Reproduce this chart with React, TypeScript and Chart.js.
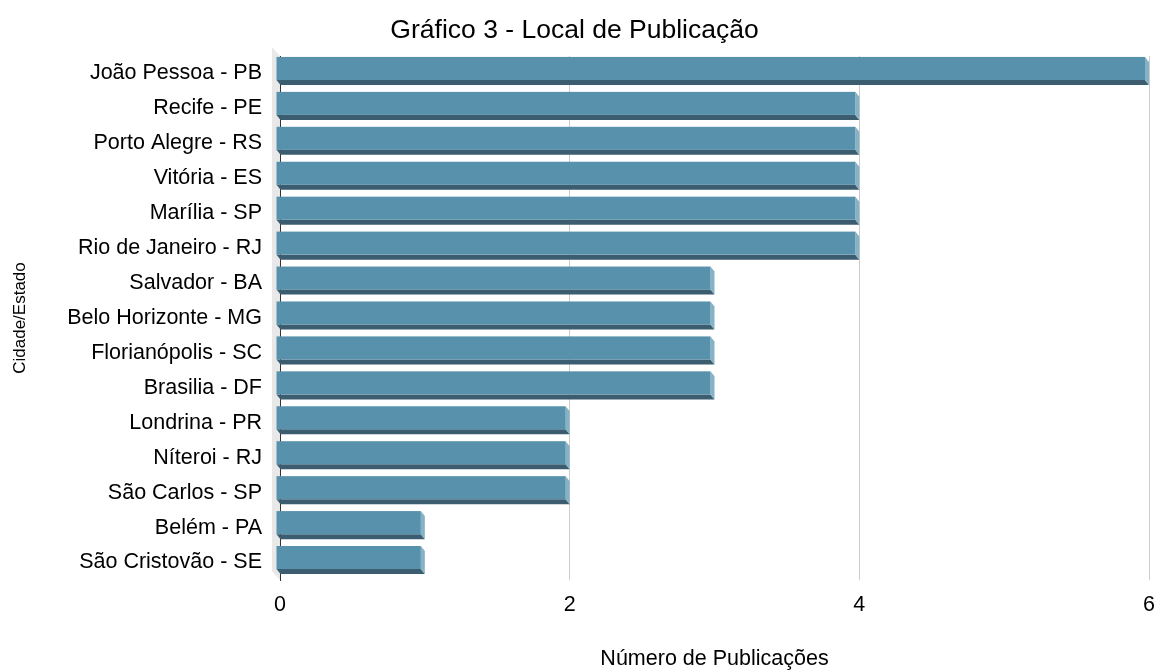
import React, { useEffect, useRef } from "react";
import { Chart, registerables } from "chart.js";

Chart.register(...registerables);

const categories: string[] = [
  "João Pessoa - PB",
  "Recife - PE",
  "Porto Alegre - RS",
  "Vitória - ES",
  "Marília - SP",
  "Rio de Janeiro - RJ",
  "Salvador - BA",
  "Belo Horizonte - MG",
  "Florianópolis - SC",
  "Brasilia - DF",
  "Londrina - PR",
  "Níteroi - RJ",
  "São Carlos - SP",
  "Belém - PA",
  "São Cristovão - SE",
];

const publicacoes: number[] = [6, 4, 4, 4, 4, 4, 3, 3, 3, 3, 2, 2, 2, 1, 1];

const xTicks: number[] = [0, 2, 4, 6];

const chartTitle = "Gráfico 3 - Local de Publicação";
const xTitle = "Número de Publicações";
const yTitle = "Cidade/Estado";

const FONT = "'Liberation Sans', Arial, sans-serif";
const DX = -4;
const DY = -5;

const wallPlugin = {
  id: "wall3d",
  beforeDraw(chart: any) {
    const { ctx, chartArea } = chart;
    const { left, top, bottom } = chartArea;
    ctx.save();
    ctx.fillStyle = "#e8e8e8";
    ctx.beginPath();
    ctx.moveTo(left + DX * 2, top + DY * 2 + 1);
    ctx.lineTo(left, top);
    ctx.lineTo(left, bottom);
    ctx.lineTo(left + DX * 2, bottom + DY * 2 + 1);
    ctx.closePath();
    ctx.fill();
    ctx.restore();
  },
};

const bar3dPlugin = {
  id: "bar3d",
  afterDatasetsDraw(chart: any) {
    const { ctx } = chart;
    const meta = chart.getDatasetMeta(0);
    ctx.save();
    meta.data.forEach((el: any) => {
      const p = el.getProps(["x", "y", "base", "height"], true);
      const x0 = p.base;
      const x1 = p.x;
      const y0 = p.y - p.height / 2;
      const y1 = p.y + p.height / 2;
      // bottom face
      ctx.fillStyle = "#3c5c70";
      ctx.beginPath();
      ctx.moveTo(x0 + DX, y1 + DY);
      ctx.lineTo(x1 + DX, y1 + DY);
      ctx.lineTo(x1, y1);
      ctx.lineTo(x0, y1);
      ctx.closePath();
      ctx.fill();
      // right face
      ctx.fillStyle = "#86b2c5";
      ctx.beginPath();
      ctx.moveTo(x1 + DX, y0 + DY);
      ctx.lineTo(x1, y0);
      ctx.lineTo(x1, y1);
      ctx.lineTo(x1 + DX, y1 + DY);
      ctx.closePath();
      ctx.fill();
      // front face
      ctx.fillStyle = "#5791ab";
      ctx.fillRect(x0 + DX, y0 + DY, x1 - x0, y1 - y0);
    });
    ctx.restore();
  },
};

export default function App() {
  const canvasRef = useRef<HTMLCanvasElement | null>(null);

  useEffect(() => {
    if (!canvasRef.current) return;
    const chart = new Chart(canvasRef.current, {
      type: "bar",
      data: {
        labels: categories,
        datasets: [
          {
            data: publicacoes,
            backgroundColor: "rgba(0,0,0,0)",
            borderWidth: 0,
            barPercentage: 0.66,
            categoryPercentage: 1,
          },
        ],
      },
      options: {
        indexAxis: "y",
        responsive: false,
        animation: false,
        devicePixelRatio: 1,
        layout: { padding: { left: 0, right: 7, top: 0, bottom: 0 } },
        plugins: {
          legend: { display: false },
          tooltip: { enabled: false },
          title: {
            display: true,
            text: chartTitle,
            color: "#000",
            font: { family: FONT, size: 26.5, weight: "normal" },
            padding: { top: 14.6, bottom: 9.6 },
          },
        },
        scales: {
          x: {
            min: 0,
            max: 6,
            afterBuildTicks(scale: any) {
              scale.ticks = xTicks.map((v) => ({ value: v }));
            },
            afterFit(scale: any) {
              scale.height = 90;
              scale.paddingLeft = 0;
              scale.paddingRight = 0;
            },
            ticks: {
              color: "#000",
              font: { family: FONT, size: 21.5 },
              padding: 12,
            },
            grid: {
              color: "#cccccc",
              drawTicks: false,
            },
            border: { display: false },
            title: {
              display: true,
              text: xTitle,
              color: "#000",
              font: { family: FONT, size: 21.5, lineHeight: 1.0 },
              padding: { top: 0, bottom: 0 },
            },
          },
          y: {
            afterFit(scale: any) {
              scale.width = 280;
              scale.paddingTop = 0;
              scale.paddingBottom = 0;
            },
            ticks: {
              color: "#000",
              font: { family: FONT, size: 21.5 },
              padding: 18,
            },
            grid: { display: false, drawTicks: false },
            border: { display: true, color: "#333", width: 1 },
            title: {
              display: true,
              text: yTitle,
              color: "#000",
              font: { family: FONT, size: 17 },
              padding: { top: 10.3, bottom: 0 },
            },
          },
        },
      },
      plugins: [wallPlugin, bar3dPlugin],
    } as any);
    return () => chart.destroy();
  }, []);

  return (
    <div style={{ position: "absolute", left: 0, top: 0, width: 1156, height: 670, background: "#fff" }}>
      <canvas ref={canvasRef} width={1156} height={670} />
    </div>
  );
}
